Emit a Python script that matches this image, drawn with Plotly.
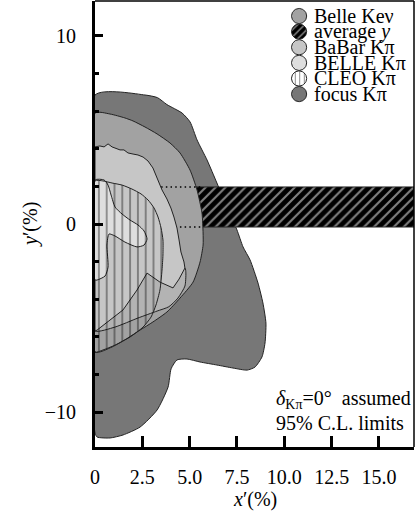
import numpy as np
import plotly.graph_objects as go

FONT = "Liberation Serif"

# ---------------- data (x', y' in %) ----------------
focus_x = [0, 2.64, 3.30, 3.80, 4.60, 5.02, 5.39, 5.92, 6.44, 6.97, 7.50, 7.82, 8.19, 8.61, 8.87,
           9.03, 8.98, 8.82, 8.45, 8.03, 7.29, 6.44, 5.55, 4.86, 4.33, 4.02, 3.86, 3.28, 2.38,
           1.48, 0.79, 0.11, 0, 0]
focus_y = [6.86, 6.86, 6.72, 6.35, 5.90, 5.43, 4.47, 3.40, 2.18, 0.90, -0.32, -1.22, -1.91, -3.14,
           -4.20, -5.27, -6.33, -7.07, -7.61, -7.77, -7.66, -7.50, -7.34, -7.18, -7.23, -7.70,
           -8.67, -9.89, -10.80, -11.22, -11.38, -11.33, -11.12, 6.86]

avg_y_low, avg_y_high = -0.16, 1.97
avg_x_start, avg_x_end = 4.5, 16.85

bellekev_x = [0, 0.79, 1.58, 2.01, 2.64, 3.28, 3.96, 4.49, 5.02, 5.39, 5.65, 5.71, 5.71, 5.55,
              5.18, 4.49, 3.80, 3.06, 2.38, 1.74, 0.90, 0, 0]
bellekev_y = [5.90, 5.85, 5.64, 5.48, 5.16, 4.79, 4.31, 3.78, 2.87, 1.81, 0.59, -0.48, -1.12,
              -2.02, -3.09, -3.94, -4.68, -5.21, -5.64, -6.06, -6.54, -6.81, 5.90]

overlap_x = [0, 1.06, 2.27, 3.28, 3.90, 4.38, 4.75, 4.80, 4.75, 2.91, 0, 0]
overlap_y = [-5.69, -5.48, -5.00, -4.63, -4.40, -3.94, -3.30, -2.60, -2.34, -2.18, -4.04, -5.69]

babar_x = [0, 0.26, 0.48, 0.69, 0.90, 1.11, 1.32, 1.53, 1.74, 2.01, 2.27, 2.54, 2.80, 3.06,
           3.28, 3.54, 3.80, 4.01, 4.17, 4.33, 4.44, 4.54, 4.70, 4.75, 4.44, 4.12, 3.43, 2.75,
           2.22, 1.48, 0.11, 0, 0]
babar_y = [4.10, 4.15, 4.10, 4.26, 4.10, 4.04, 3.94, 3.94, 3.78, 3.72, 3.67, 3.56, 3.35, 2.98,
           2.45, 1.81, 1.33, 0.85, 0.37, -0.21, -0.85, -1.49, -2.02, -2.34, -2.93, -3.40, -3.09,
           -2.61, -3.51, -4.57, -5.64, -5.69, 4.10]

bellekpi_x = [0, 0.48, 0.69, 0.85, 1.06, 1.43, 1.85, 2.27, 2.59, 2.75, 2.59, 2.22, 1.58, 1.06,
              0.74, 0.63, 0.69, 0.53, 0.11, 0, 0]
bellekpi_y = [2.34, 2.34, 2.07, 1.54, 0.90, 0.53, 0.21, -0.05, -0.37, -0.80, -1.12, -1.22, -0.96,
              -0.64, -0.53, -1.12, -2.29, -2.77, -2.98, -2.98, 2.34]

cleo_x = [0, 0.42, 0.90, 1.43, 1.95, 2.43, 2.80, 3.12, 3.33, 3.49, 3.59, 3.59, 3.54, 3.43, 3.22,
          2.96, 2.54, 1.85, 1.06, 0.42, 0, 0]
cleo_y = [2.29, 2.29, 2.18, 2.07, 1.86, 1.60, 1.28, 0.85, 0.37, -0.21, -0.85, -1.65, -2.45,
          -3.51, -4.31, -4.95, -5.48, -6.01, -6.44, -6.70, -6.81, 2.29]

x_tickvals = [0, 2.5, 5, 7.5, 10, 12.5, 15]
x_ticktext = ["0", "2.5", "5.0", "7.5", "10.0", "12.5", "15.0"]
y_tickvals = [-10, 0, 10]
y_ticktext = ["\u221210", "0", "10"]

legend_labels = ["Belle Ke\u03bd", "average <i>y</i>", "BaBar K\u03c0", "BELLE K\u03c0",
                 "CLEO K\u03c0", "focus K\u03c0"]

# ---------------- styles ----------------
C_FOCUS = "#777777"
C_KEV = "#a2a2a2"
C_OVL = "#b3b3b3"
C_BABAR = "#c6c6c6"
C_BELLE = "#dedede"
EDGE = dict(color="#222222", width=1)

BAND_PAT = dict(shape="/", bgcolor="black", fgcolor="white", size=7, solidity=0.3)
CLEO_PAT = dict(shape="|", bgcolor="rgba(0,0,0,0)", fgcolor="black", size=7.8, solidity=0.18)

X_RANGE = [0, 16.85]
Y_RANGE = [-11.86, 11.86]

fig = go.Figure()


def region(xs, ys, color, shape="spline", pattern=None):
    kw = dict(x=xs, y=ys, mode="lines", fill="toself", fillcolor=color,
              line=dict(color=EDGE["color"], width=EDGE["width"], shape=shape, smoothing=0.6),
              hoverinfo="skip", showlegend=False)
    if pattern is not None:
        kw["fillpattern"] = pattern
    fig.add_trace(go.Scatter(**kw))


region(focus_x, focus_y, C_FOCUS)
region([avg_x_start, avg_x_end, avg_x_end, avg_x_start, avg_x_start],
       [avg_y_low, avg_y_low, avg_y_high, avg_y_high, avg_y_low], "black", shape="linear",
       pattern=BAND_PAT)
region(bellekev_x, bellekev_y, C_KEV)
region(overlap_x, overlap_y, C_OVL)
for yv in (avg_y_low, avg_y_high):
    fig.add_trace(go.Scatter(x=[2.5, 5.6], y=[yv, yv], mode="lines",
                             line=dict(color="black", width=1.6, dash="1.5px,3.2px"),
                             hoverinfo="skip", showlegend=False))
region(babar_x, babar_y, C_BABAR, shape="linear")
region(bellekpi_x, bellekpi_y, C_BELLE)
region(cleo_x, cleo_y, "rgba(0,0,0,0)", pattern=CLEO_PAT)

# ---------------- custom legend ----------------
leg_cx, leg_top, leg_step, leg_r = 10.78, 11.06, 0.83, 0.40
leg_fill = [C_KEV, "black", C_BABAR, C_BELLE, "white", C_FOCUS]
leg_pat = [None, dict(shape="/", bgcolor="black", fgcolor="white", size=5, solidity=0.3),
           None, None, dict(shape="|", bgcolor="white", fgcolor="black", size=4.5, solidity=0.2),
           None]
t = np.linspace(0, 2 * np.pi, 60)
for i, lab in enumerate(legend_labels):
    cy = leg_top - i * leg_step
    kw = dict(x=leg_cx + leg_r * np.cos(t), y=cy + leg_r * 18.93 / 18.8 * np.sin(t),
              mode="lines", fill="toself", fillcolor=leg_fill[i],
              line=dict(color="#222222", width=1), hoverinfo="skip", showlegend=False)
    if leg_pat[i] is not None:
        kw["fillpattern"] = leg_pat[i]
    fig.add_trace(go.Scatter(**kw))
    fig.add_annotation(x=leg_cx + 0.70, y=cy, xref="x", yref="y", text=lab, showarrow=False,
                       xanchor="left", yanchor="middle", font=dict(family=FONT, size=20, color="black"))

fig.add_annotation(x=9.46, y=-9.36, xref="x", yref="y",
                   text="<i>\u03b4</i><sub>K\u03c0</sub>=0\u00b0\u00a0\u00a0assumed", showarrow=False,
                   xanchor="left", yanchor="middle", font=dict(family=FONT, size=20, color="black"))
fig.add_annotation(x=9.46, y=-10.59, xref="x", yref="y", text="95% C.L. limits", showarrow=False,
                   xanchor="left", yanchor="middle", font=dict(family=FONT, size=20, color="black"))

# axis titles
fig.add_annotation(x=0.5, y=-0.1166, xref="paper", yref="paper", text="<i>x</i>\u2032(%)",
                   showarrow=False, xanchor="center", yanchor="middle",
                   font=dict(family=FONT, size=20, color="black"))
fig.add_annotation(x=-0.204, y=0.5, xref="paper", yref="paper", text="<i>y</i>\u2032(%)",
                   showarrow=False, xanchor="center", yanchor="middle", textangle=-90,
                   font=dict(family=FONT, size=20, color="black"))

# top / right frame lines
fig.add_shape(type="line", xref="paper", yref="paper", x0=0, x1=1, y0=1, y1=1,
              line=dict(color="black", width=1.5))
fig.add_shape(type="line", xref="paper", yref="paper", x0=1, x1=1, y0=0, y1=1,
              line=dict(color="black", width=1.5))

fig.update_xaxes(range=X_RANGE, tickvals=x_tickvals, ticktext=x_ticktext, ticks="inside",
                 ticklen=11, tickwidth=2.5, tickcolor="black", showline=True, linecolor="black",
                 linewidth=3, showgrid=False, zeroline=False, ticklabelstandoff=10,
                 automargin=False,
                 tickfont=dict(family=FONT, size=20, color="black"), fixedrange=True)
fig.update_yaxes(range=Y_RANGE, tickvals=y_tickvals, ticktext=y_ticktext, ticks="inside",
                 ticklen=8, tickwidth=2.5, tickcolor="black", showline=True, linecolor="black",
                 linewidth=3, showgrid=False, zeroline=False, ticklabelstandoff=12,
                 automargin=False,
                 minor=dict(dtick=2, tick0=0, ticks="inside", ticklen=4, tickwidth=2.5,
                            tickcolor="black", showgrid=False),
                 tickfont=dict(family=FONT, size=20, color="black"), fixedrange=True)

fig.update_layout(width=417, height=514, margin=dict(l=95, r=3, t=1, b=67, autoexpand=False),
                  paper_bgcolor="white", plot_bgcolor="white", showlegend=False)

fig.write_html("out.html", config={"displayModeBar": False},
               post_script="document.body.style.margin='0';")
